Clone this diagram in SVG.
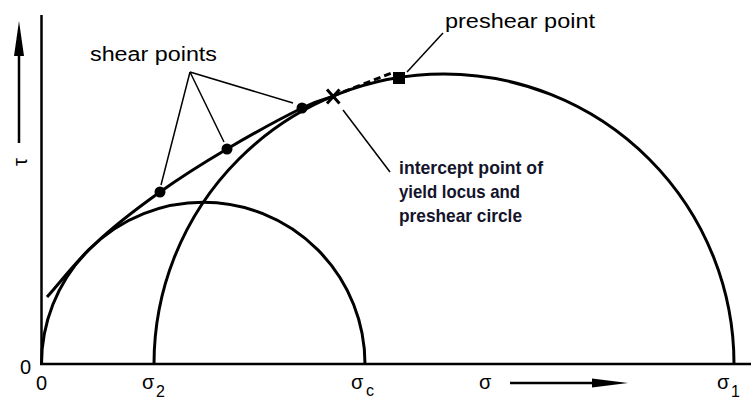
<svg xmlns="http://www.w3.org/2000/svg" width="751" height="401" viewBox="0 0 751 401">
<defs>
<style>
.ax{stroke:#000;stroke-width:2.5;fill:none}
.cv{stroke:#000;stroke-width:3;fill:none}
.ld{stroke:#000;stroke-width:1.5;fill:none}
.lbl{font-family:"Liberation Sans",Arial,sans-serif;font-size:20px;fill:#000}
.bold{font-family:"Liberation Sans",Arial,sans-serif;font-size:19px;font-weight:bold;fill:#14142b}
.sub{font-family:"Liberation Sans",Arial,sans-serif;font-size:16px;fill:#000}
</style>
</defs>
<rect width="751" height="401" fill="#fff"/>
<g id="axes">
<line class="ax" x1="41.5" y1="15" x2="41.5" y2="364.5"/>
<line class="ax" x1="40" y1="364" x2="751" y2="364"/>
<line class="ax" x1="19" y1="143" x2="19" y2="52"/>
<polygon points="19,21 14,56 24,56" fill="#000"/>
<line class="ax" x1="510" y1="383" x2="594" y2="383"/>
<polygon points="628,383 592,378.5 592,387.5" fill="#000"/>
<text class="lbl" transform="translate(27,162) rotate(-90)" text-anchor="middle">τ</text>
<text class="lbl" x="20" y="374">0</text>
<text class="lbl" x="36" y="390">0</text>
<text class="lbl" x="142" y="389">σ</text><text class="sub" x="156" y="397">2</text>
<text class="lbl" x="351" y="389">σ</text><text class="sub" x="366" y="396">c</text>
<text class="lbl" x="479" y="389">σ</text>
<text class="lbl" x="717" y="389">σ</text><text class="sub" x="731" y="397">1</text>
</g>
<g id="circles">
<path id="small-circle" class="cv" d="M41.5 364 A161.75 161.75 0 0 1 365 364"/>
<path id="preshear-circle" class="cv" d="M154 364 A290 290 0 0 1 734 364"/>
</g>
<g id="yield-locus">
<path class="cv" d="M47 297 C63 279 76.2 261 95 244 C113.8 226 138 207.7 160 192 C182 176.3 203.3 163 227 149 C250.7 135 284.3 116.75 302 108 C319.7 99.25 322.7 100.3 333 96.5"/>
<path class="cv" d="M333 96 L394 72" stroke-dasharray="7 4"/>
</g>
<g id="shear-points">
<circle cx="160" cy="192" r="5.5" fill="#000"/>
<circle cx="227" cy="149" r="5.5" fill="#000"/>
<circle cx="302" cy="108" r="5.5" fill="#000"/>
</g>
<g id="intercept-mark">
<path class="cv" d="M327 89.5 L339.5 103.5 M339.5 89.5 L327 103.5"/>
</g>
<g id="preshear-mark">
<rect x="393" y="72" width="12" height="12" fill="#000"/>
</g>
<g id="connectors">
<path class="ld" d="M190 72 L161 185 M190 72 L224 142 M190 72 L293 103"/>
<line class="ld" x1="443" y1="33" x2="407" y2="72"/>
<line class="ld" x1="343" y1="110" x2="390" y2="172"/>
</g>
<g id="labels">
<text class="lbl" x="90" y="61" textLength="127" lengthAdjust="spacingAndGlyphs">shear points</text>
<text class="lbl" x="445" y="28" textLength="150" lengthAdjust="spacingAndGlyphs">preshear point</text>
<text class="bold" x="399" y="174" textLength="144" lengthAdjust="spacingAndGlyphs">intercept point of</text>
<text class="bold" x="399" y="198" textLength="121" lengthAdjust="spacingAndGlyphs">yield locus and</text>
<text class="bold" x="399" y="222" textLength="123" lengthAdjust="spacingAndGlyphs">preshear circle</text>
</g>
</svg>
